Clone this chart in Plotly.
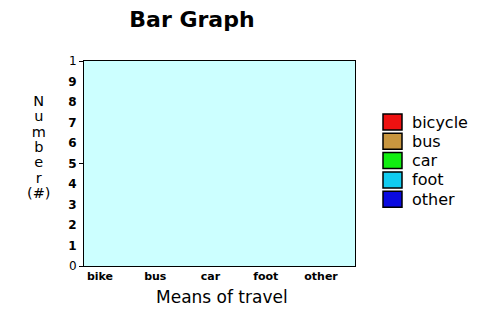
import plotly.graph_objects as go

# ---- data ----
categories = ["bike", "bus", "car", "foot", "other"]
legend_names = ["bicycle", "bus", "car", "foot", "other"]
counts = [0, 0, 0, 0, 0]
colors = ["#ee1111", "#c8963f", "#11ee11", "#11ccf0", "#0a0ae0"]
y_tick_vals = [0, 1, 2, 3, 4, 5, 6, 7, 8, 9, 10]
y_tick_text = ["0", "<b>1</b>", "<b>2</b>", "<b>3</b>", "<b>4</b>", "<b>5</b>",
               "<b>6</b>", "<b>7</b>", "<b>8</b>", "<b>9</b>", "1"]
y_title_letters = ["N", "u", "m", "b", "e", "r", "(#)"]

W, H = 492, 313
L, R, T, B = 84, 355, 61, 266  # plot area in px

def px_x(p):
    return (p - L) / (R - L)

def px_y(p):
    return (B - p) / (B - T)

FONT = "DejaVu Sans"

fig = go.Figure()

for i, (cat, v, c) in enumerate(zip(categories, counts, colors)):
    fig.add_trace(go.Bar(x=[i], y=[v], name=legend_names[i],
                         marker=dict(color=c, line=dict(width=0)),
                         width=0.6, showlegend=False))

# carrier for the tick-only overlay axis
fig.add_trace(go.Scatter(x=[None], y=[None], yaxis="y2", showlegend=False,
                         hoverinfo="skip", mode="markers"))

annotations = []
# vertical y-axis title (one text, stacked letters)
annotations.append(dict(
    text="<br>".join(f"<span style='font-size:14.5px'>{ch}</span>" for ch in y_title_letters),
    x=px_x(38), y=px_y(147), xref="paper", yref="paper", showarrow=False,
    xanchor="center", yanchor="middle", align="center",
    font=dict(family=FONT, size=11.8, color="black")))
annotations.append(dict(text="Means of travel", x=px_x(222), y=px_y(297),
                        xref="paper", yref="paper", showarrow=False,
                        xanchor="center", yanchor="middle",
                        font=dict(family=FONT, size=17, color="black")))

# legend (drawn manually to match the reference's compact spacing)
shapes = []
for i, (name, c) in enumerate(zip(legend_names, colors)):
    yc = 122 + i * 19.3
    shapes.append(dict(type="rect", xref="paper", yref="paper",
                       x0=px_x(383), x1=px_x(402), y0=px_y(yc + 8), y1=px_y(yc - 8),
                       fillcolor=c, line=dict(color="black", width=1.5)))
    annotations.append(dict(text=name, x=px_x(410), y=px_y(yc), xref="paper", yref="paper",
                            showarrow=False, xanchor="left", yanchor="middle",
                            font=dict(family=FONT, size=16, color="black")))

fig.update_layout(
    width=W, height=H,
    margin=dict(l=L, r=W - R, t=T, b=H - B, pad=0),
    paper_bgcolor="white", plot_bgcolor="#ccffff",
    title=dict(text="<b>Bar Graph</b>", x=192 / W, y=1 - 19 / H,
               xanchor="center", yanchor="middle",
               font=dict(family=FONT, size=22, color="black")),
    xaxis=dict(range=[-0.29, 4.615], tickvals=list(range(len(categories))),
               ticktext=categories, ticks="", showgrid=False, zeroline=False,
               showline=True, linecolor="black", linewidth=1, mirror=True,
               tickfont=dict(family=FONT, size=11, color="black", weight="bold"),
               fixedrange=True),
    yaxis=dict(range=[0, 10], tickvals=y_tick_vals, ticktext=y_tick_text,
               ticks="", showgrid=False, zeroline=False,
               showline=True, linecolor="black", linewidth=1, mirror=True,
               ticklabelstandoff=4,
               tickfont=dict(family=FONT, size=12, color="black")),
    yaxis2=dict(range=[0, 10], overlaying="y", side="left", anchor="x",
                tickvals=[0, 5, 10], ticks="outside", ticklen=4, tickcolor="black",
                showticklabels=False, showgrid=False, zeroline=False, showline=False),
    annotations=annotations,
    shapes=shapes,
    showlegend=False,
)

fig.write_html("out.html")
